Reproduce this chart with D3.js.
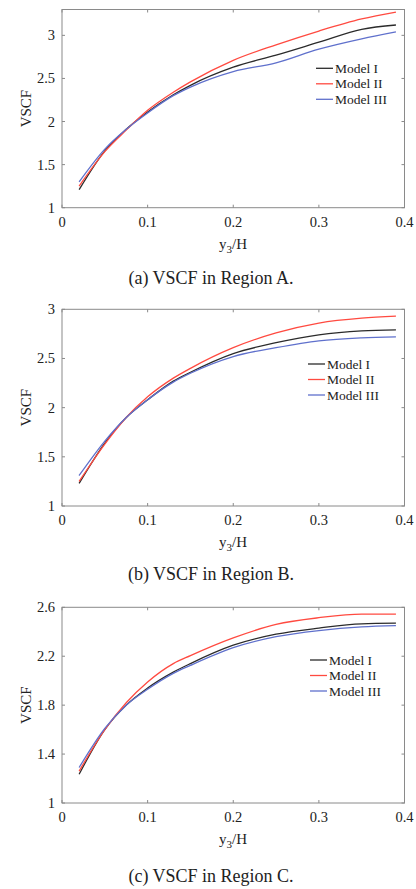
<!DOCTYPE html>
<html>
<head>
<meta charset="utf-8"/>
<title>VSCF</title>
<script src="https://d3js.org/d3.v7.min.js"></script>
<style>
  body { margin: 0; background: #fff; }
  text { font-family: "Liberation Serif", "Times New Roman", serif; fill: #222; }
</style>
</head>
<body>
<svg id="chart" width="416" height="889"></svg>
<script>
// x positions (y3/H) shared by all curves
var xVals = [0.02, 0.05, 0.075, 0.1, 0.13, 0.15, 0.2, 0.25, 0.3, 0.35, 0.39];
var xTicks = [0, 0.1, 0.2, 0.3, 0.4];

var models = ["Model I", "Model II", "Model III"];
var colors = ["#2b2b2b", "#ff4a40", "#5f70cc"];

// Region A
var regionA_m1 = [1.21, 1.66, 1.91, 2.11, 2.31, 2.42, 2.63, 2.77, 2.92, 3.07, 3.12];
var regionA_m2 = [1.25, 1.65, 1.90, 2.13, 2.34, 2.46, 2.71, 2.89, 3.05, 3.19, 3.27];
var regionA_m3 = [1.30, 1.68, 1.91, 2.10, 2.30, 2.40, 2.58, 2.68, 2.84, 2.96, 3.04];
var regionA_ticks = [1, 1.5, 2, 2.5, 3];

// Region B
var regionB_m1 = [1.23, 1.64, 1.90, 2.08, 2.27, 2.36, 2.55, 2.66, 2.74, 2.78, 2.79];
var regionB_m2 = [1.25, 1.63, 1.90, 2.11, 2.30, 2.40, 2.61, 2.76, 2.86, 2.91, 2.93];
var regionB_m3 = [1.31, 1.66, 1.90, 2.08, 2.26, 2.35, 2.52, 2.61, 2.68, 2.71, 2.72];
var regionB_ticks = [1, 1.5, 2, 2.5, 3];

// Region C
var regionC_m1 = [1.235, 1.60, 1.80, 1.94, 2.07, 2.14, 2.29, 2.38, 2.43, 2.465, 2.47];
var regionC_m2 = [1.26, 1.60, 1.82, 1.99, 2.14, 2.205, 2.35, 2.46, 2.515, 2.545, 2.545];
var regionC_m3 = [1.29, 1.61, 1.80, 1.93, 2.06, 2.125, 2.27, 2.36, 2.41, 2.44, 2.45];
var regionC_ticks = [1, 1.4, 1.8, 2.2, 2.6];

var svg = d3.select("#chart");
svg.append("rect").attr("width", 416).attr("height", 889).attr("fill", "#fff");

function panel(opt) {
  var x = d3.scaleLinear().domain([0, 0.4]).range([62, 404.5]);
  var y = d3.scaleLinear().domain(opt.yDomain).range([opt.bottom, opt.top]);
  var g = svg.append("g");
  var frame = "#8a8a8a";

  // box
  g.append("rect")
    .attr("x", x(0)).attr("y", y(opt.yDomain[1]))
    .attr("width", x(0.4) - x(0)).attr("height", y(opt.yDomain[0]) - y(opt.yDomain[1]))
    .attr("fill", "none").attr("stroke", frame).attr("stroke-width", 1);

  // inward ticks on all sides
  xTicks.forEach(function(t) {
    g.append("line").attr("x1", x(t)).attr("x2", x(t))
      .attr("y1", opt.bottom).attr("y2", opt.bottom - 3).attr("stroke", frame);
    g.append("line").attr("x1", x(t)).attr("x2", x(t))
      .attr("y1", y(opt.yDomain[1])).attr("y2", y(opt.yDomain[1]) + 3).attr("stroke", frame);
    g.append("text").attr("x", x(t)).attr("y", opt.bottom + 19)
      .attr("text-anchor", "middle").attr("font-size", 14.5).text(t === 0 ? "0" : t);
  });
  opt.yTicks.forEach(function(t) {
    g.append("line").attr("x1", x(0)).attr("x2", x(0) + 3)
      .attr("y1", y(t)).attr("y2", y(t)).attr("stroke", frame);
    g.append("line").attr("x1", x(0.4)).attr("x2", x(0.4) - 3)
      .attr("y1", y(t)).attr("y2", y(t)).attr("stroke", frame);
    g.append("text").attr("x", x(0) - 7).attr("y", y(t) + 5)
      .attr("text-anchor", "end").attr("font-size", 14.5).text(t);
  });

  // curves
  var line = d3.line()
    .x(function(d) { return x(d[0]); })
    .y(function(d) { return y(d[1]); })
    .curve(d3.curveMonotoneX);
  [opt.m1, opt.m2, opt.m3].forEach(function(s, i) {
    g.append("path")
      .datum(xVals.map(function(v, j) { return [v, s[j]]; }))
      .attr("fill", "none").attr("stroke", colors[i]).attr("stroke-width", 1.3)
      .attr("d", line);
  });

  // legend
  models.forEach(function(m, i) {
    var ly = opt.legY + i * 15.5;
    g.append("line").attr("x1", opt.legX).attr("x2", opt.legX + 17)
      .attr("y1", ly).attr("y2", ly).attr("stroke", colors[i]).attr("stroke-width", 1.3);
    g.append("text").attr("x", opt.legX + 19).attr("y", ly + 4.5)
      .attr("font-size", 13.5).text(m);
  });

  // axis labels
  var xl = g.append("text").attr("x", 233).attr("y", opt.bottom + 41)
    .attr("text-anchor", "middle").attr("font-size", 15);
  xl.append("tspan").text("y");
  xl.append("tspan").attr("font-size", 11).attr("dy", 4).text("3");
  xl.append("tspan").attr("dy", -4).text("/H");

  g.append("text")
    .attr("transform", "translate(31," + ((opt.top + opt.bottom) / 2) + ") rotate(-90)")
    .attr("text-anchor", "middle").attr("font-size", 15).text("VSCF");

  g.append("text").attr("x", 211).attr("y", opt.bottom + opt.capOff)
    .attr("text-anchor", "middle").attr("font-size", 18).text(opt.caption);
}

panel({ yDomain: [1, 3.3], top: 9.5, bottom: 207.7, yTicks: regionA_ticks,
  m1: regionA_m1, m2: regionA_m2, m3: regionA_m3,
  legX: 316, legY: 68.3, capOff: 76, caption: "(a) VSCF in Region A." });
panel({ yDomain: [1, 3], top: 309.3, bottom: 506, yTicks: regionB_ticks,
  m1: regionB_m1, m2: regionB_m2, m3: regionB_m3,
  legX: 308, legY: 364, capOff: 74, caption: "(b) VSCF in Region B." });
panel({ yDomain: [1, 2.6], top: 607.3, bottom: 803, yTicks: regionC_ticks,
  m1: regionC_m1, m2: regionC_m2, m3: regionC_m3,
  legX: 310, legY: 660, capOff: 79, caption: "(c) VSCF in Region C." });
</script>
</body>
</html>
